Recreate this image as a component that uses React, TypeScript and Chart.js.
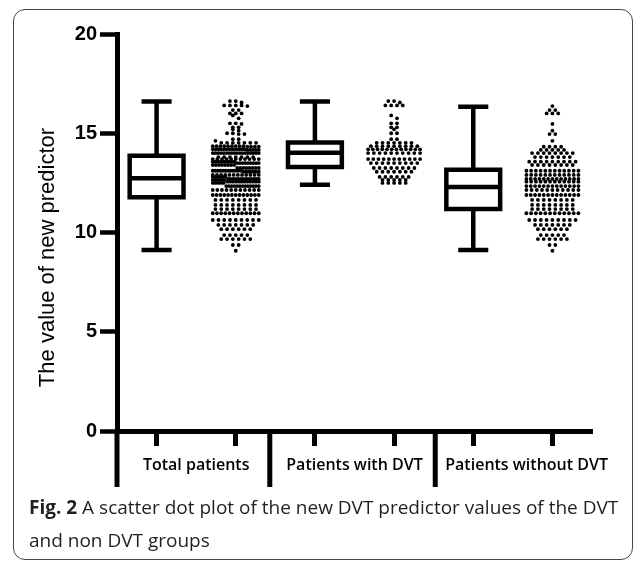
import React, { useEffect, useRef } from "react";
import { Chart, registerables } from "chart.js";

Chart.register(...registerables);

// ---- data ----
const groupLabels = ["Total patients", "Patients with DVT", "Patients without DVT"];
const boxPositions = [1, 3, 5];
const dotPositions = [2, 4, 6];
const separatorPositions = [0.5, 2.43, 4.52];
const yTickValues = [0, 5, 10, 15, 20];
const yTitle = "The value of new predictor";

// box stats: [min, Q1, median, Q3, max]
const boxTotal = [9.12, 11.77, 12.73, 13.87, 16.6];
const boxDvt = [12.4, 13.3, 14.02, 14.53, 16.6];
const boxNonDvt = [9.12, 11.18, 12.29, 13.16, 16.34];

// DVT group: value levels (rows of the dot plot) and dot counts per level
const dvtLevels = [16.62, 16.55, 16.4, 15.9, 15.75, 15.5, 15.3, 15.2, 15.0, 14.7, 14.52, 14.35, 14.19, 14.0, 13.7, 13.5, 13.25, 13.06, 12.8, 12.65, 12.5];
const dvtCounts = [2, 1, 4, 1, 1, 2, 2, 1, 2, 2, 7, 9, 12, 10, 11, 9, 8, 7, 6, 5, 5];

// non-DVT group
const nonDvtLevels = [16.37, 16.17, 16.0, 15.47, 15.13, 14.96, 14.62, 14.32, 14.16, 14.0, 13.8, 13.57, 13.4, 13.11, 12.9, 12.7, 12.56, 12.34, 12.14, 11.89, 11.64, 11.39, 11.18, 10.97, 10.63, 10.38, 10.17, 9.87, 9.67, 9.37, 9.08];
const nonDvtCounts = [1, 2, 3, 1, 1, 2, 1, 4, 5, 8, 7, 9, 8, 12, 12, 13, 12, 13, 11, 13, 8, 8, 8, 12, 9, 7, 6, 5, 6, 2, 1];

// ---- helpers ----
const expand = (levels: number[], counts: number[]) =>
  levels.flatMap((v, i) => Array(counts[i]).fill(v) as number[]);

const dvtValues = expand(dvtLevels, dvtCounts);
const nonDvtValues = expand(nonDvtLevels, nonDvtCounts);
const totalValues = [...dvtValues, ...nonDvtValues];

const PX_PER_UNIT = 475 / 6;
const DOT_SPACING = 5.8;
const ROW_HEIGHT = 0.18;

function swarm(values: number[], center: number, maxWidth: number) {
  const rows = new Map<number, number[]>();
  [...values].sort((a, b) => b - a).forEach((v) => {
    const k = Math.round(v / ROW_HEIGHT);
    if (!rows.has(k)) rows.set(k, []);
    rows.get(k)!.push(v);
  });
  const pts: { x: number; y: number }[] = [];
  rows.forEach((vals) => {
    const n = vals.length;
    const sp = n > 1 ? Math.min(DOT_SPACING, maxWidth / (n - 1)) : 0;
    vals.forEach((v, i) => {
      const off = (i - (n - 1) / 2) * sp;
      pts.push({ x: center + off / PX_PER_UNIT, y: v });
    });
  });
  return pts;
}

const boxPlugin = {
  id: "boxAndDecor",
  afterDatasetsDraw(chart: any) {
    const { ctx, scales, chartArea } = chart;
    const xs = scales.x;
    const ys = scales.y;
    ctx.save();
    ctx.strokeStyle = "#000";
    ctx.fillStyle = "#000";
    ctx.lineWidth = 4.5;
    ctx.lineCap = "butt";
    const boxes = [boxTotal, boxDvt, boxNonDvt];
    boxes.forEach((b, i) => {
      const cx = xs.getPixelForValue(boxPositions[i]);
      const hw = 0.34 * PX_PER_UNIT;
      const cw = 0.19 * PX_PER_UNIT;
      const [mn, q1, md, q3, mx] = b.map((v) => ys.getPixelForValue(v));
      ctx.beginPath();
      ctx.rect(cx - hw, q3, hw * 2, q1 - q3);
      ctx.moveTo(cx - hw, md);
      ctx.lineTo(cx + hw, md);
      ctx.moveTo(cx, q3);
      ctx.lineTo(cx, mx);
      ctx.moveTo(cx - cw, mx);
      ctx.lineTo(cx + cw, mx);
      ctx.moveTo(cx, q1);
      ctx.lineTo(cx, mn);
      ctx.moveTo(cx - cw, mn);
      ctx.lineTo(cx + cw, mn);
      ctx.stroke();
    });
    // group separators
    ctx.lineWidth = 5;
    const sepBottom = chartArea.bottom + 56;
    const sepPx = separatorPositions.map((v) => xs.getPixelForValue(v));
    sepPx.forEach((x) => {
      ctx.beginPath();
      ctx.moveTo(x, chartArea.bottom);
      ctx.lineTo(x, sepBottom);
      ctx.stroke();
    });
    // group labels
    ctx.font = '600 16px "Open Sans"';
    ctx.textBaseline = "middle";
    ctx.textAlign = "center";
    groupLabels.forEach((lab, i) => {
      const c = xs.getPixelForValue(2 * i + 1.5);
      const w = ctx.measureText(lab).width;
      const x = Math.max(c, sepPx[i] + 10 + w / 2);
      ctx.fillText(lab, x, chartArea.bottom + 34);
    });
    // y title
    ctx.font = '22px "Liberation Sans"';
    ctx.translate(chartArea.left - 69, (chartArea.top + chartArea.bottom) / 2 + 25);
    ctx.rotate(-Math.PI / 2);
    ctx.fillText(yTitle, 0, 0);
    ctx.restore();
  },
};

export default function App() {
  const ref = useRef<HTMLCanvasElement>(null);
  useEffect(() => {
    if (!ref.current) return;
    const dotStyle = {
      pointRadius: 1.9,
      pointBackgroundColor: "#000",
      pointBorderWidth: 0,
      showLine: false,
    };
    const chart = new Chart(ref.current, {
      type: "scatter",
      data: {
        datasets: [
          { data: swarm(totalValues, dotPositions[0], 46), ...dotStyle },
          { data: swarm(dvtValues, dotPositions[1], 52), ...dotStyle },
          { data: swarm(nonDvtValues, dotPositions[2], 52), ...dotStyle },
        ],
      },
      options: {
        animation: false,
        responsive: false,
        events: [],
        layout: { padding: { left: 0, top: 34, right: 42, bottom: 0 } },
        plugins: { legend: { display: false }, tooltip: { enabled: false } },
        scales: {
          x: {
            type: "linear",
            min: 0.5,
            max: 6.5,
            afterBuildTicks: (s: any) => {
              s.ticks = [...boxPositions, ...dotPositions].sort().map((v) => ({ value: v }));
            },
            afterFit: (s: any) => {
              s.height = 69;
            },
            ticks: { display: false },
            grid: {
              drawOnChartArea: false,
              drawTicks: true,
              tickLength: 15,
              tickWidth: 5,
              tickColor: "#000",
              color: "#000",
            },
            border: { display: true, color: "#000", width: 5 },
          },
          y: {
            type: "linear",
            min: 0,
            max: 20,
            afterBuildTicks: (s: any) => {
              s.ticks = yTickValues.map((v) => ({ value: v }));
            },
            afterFit: (s: any) => {
              s.width = 117;
            },
            ticks: {
              color: "#000",
              padding: 3,
              font: { family: '"Liberation Sans"', size: 20, weight: "bold" },
            },
            grid: {
              drawOnChartArea: false,
              drawTicks: true,
              tickLength: 17,
              tickWidth: 4.5,
              tickColor: "#000",
              color: "#000",
            },
            border: { display: true, color: "#000", width: 5 },
          },
        },
      },
      plugins: [boxPlugin],
    });
    return () => chart.destroy();
  }, []);

  return (
    <div style={{ position: "fixed", left: 0, top: 0, width: 634, height: 563, background: "#fff" }}>
      <div
        style={{
          position: "absolute",
          left: 13,
          top: 9,
          width: 620,
          height: 551,
          boxSizing: "border-box",
          border: "1.5px solid #444",
          borderRadius: 12,
        }}
      />
      <canvas ref={ref} width={634} height={500} style={{ position: "absolute", left: 0, top: 0 }} />
      <div
        style={{
          position: "absolute",
          left: 29,
          top: 491,
          width: 600,
          fontFamily: '"Open Sans"',
          fontSize: 19,
          lineHeight: "33px",
          color: "#231f20",
          whiteSpace: "nowrap",
        }}
      >
        <b>Fig. 2</b> A scatter dot plot of the new DVT predictor values of the DVT
        <br />
        and non DVT groups
      </div>
    </div>
  );
}
